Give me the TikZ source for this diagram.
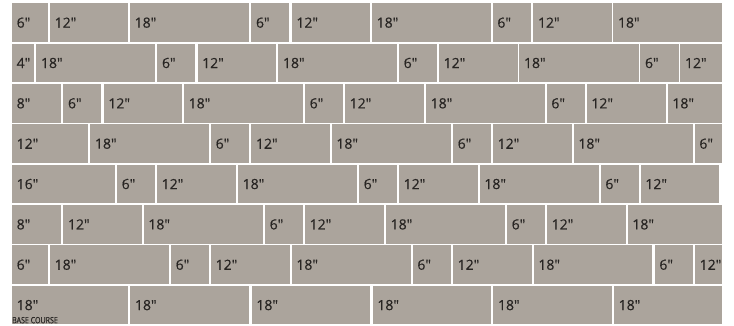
\documentclass[tikz,border=0pt]{standalone}
\usepackage{fontspec}
\setmainfont{Open Sans}[Ligatures=TeXOff, FakeBold=0.5]
\newfontfamily\narrowfont{Open Sans}[FakeStretch=0.82, FakeBold=0.3]
\definecolor{stone}{RGB}{171,164,156}
\definecolor{ink}{RGB}{40,37,35}
\tikzset{
  brick/.style={rectangle, fill=stone, inner sep=0pt, outer sep=0pt, anchor=north west, minimum height=38.7pt},
  tag/.style={anchor=west, inner sep=0pt, text=ink, font=\fontsize{14}{16}\selectfont}
}
\begin{document}
\begin{tikzpicture}[x=1pt,y=-1pt]
    \useasboundingbox[fill=white] (0,0) rectangle (734,325);
    \begin{scope}
    \clip (0,0) rectangle (722,325);
    % one course per row: start/end/length
    \foreach \r/\bricks in {
        1/{12/48.3/6, 50/128.3/12, 130/249.3/18, 251.3/289.3/6, 291.7/370/12, 372/491/18, 492.7/531/6, 533.3/611.7/12, 613.3/722/18},
        2/{12/34.3/4, 36.3/155.3/18, 157.3/195.3/6, 197.5/276.3/12, 278.3/397/18, 399/437/6, 439/517.7/12, 519.3/638.5/18, 640.3/678.5/6, 680.3/722/12},
        3/{12/61/8, 63.3/101.3/6, 103.7/182/12, 184/302.7/18, 305/342.7/6, 345/424/12, 426/544.7/18, 546.7/584.7/6, 586.7/666/12, 667.7/722/18},
        4/{12/88.3/12, 90.3/209/18, 211/249.3/6, 251.3/329.7/12, 331.7/451/18, 453/490.7/6, 493/572/12, 573.7/692.7/18, 694.7/722/6},
        5/{12/115/16, 117/155/6, 157/236.3/12, 238/357/18, 359/396.7/6, 399/477.7/12, 479.7/598.7/18, 600.7/638.7/6, 640.7/719.3/12},
        6/{12/61.3/8, 63.3/141.7/12, 143.7/263/18, 265/303/6, 305/384/12, 386/505/18, 507/545/6, 547/625.7/12, 627.7/722/18},
        7/{12/48.3/6, 50/169/18, 171/209/6, 211/289.7/12, 291.7/410.7/18, 412.7/451/6, 453/531.7/12, 533.7/652.3/18, 654.7/693/6, 695/722/12},
        8/{12/128.3/18, 130.3/249.3/18, 251.7/370.3/18, 372.7/491.3/18, 493.3/612/18, 614/722/18}}
    {
        \foreach \a/\b/\l [count=\c] in \bricks {
            \node[brick, minimum width={\b pt-\a pt}] (b\r-\c) at (\a,{3.3+40.35*(\r-1)}) {};
            \node[tag] (t\r-\c) at ([xshift=4.5pt]b\r-\c.west) {\l"};
        }
    }
    \end{scope}
    \node[anchor=south west, inner sep=0pt, text=ink, font=\narrowfont\fontsize{8.6}{9}\selectfont] (base) at (12,323.5) {BASE COURSE};
\end{tikzpicture}
\end{document}
